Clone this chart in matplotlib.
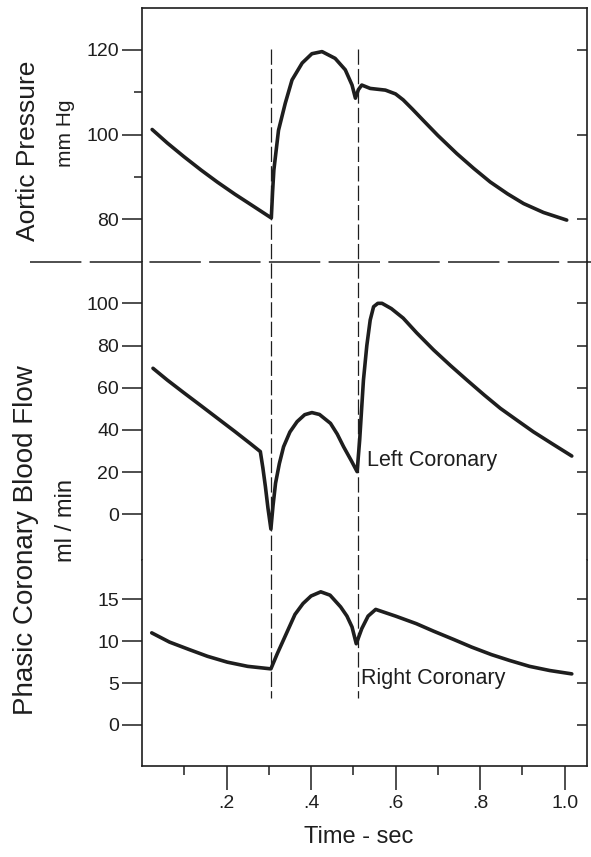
import numpy as np
import matplotlib.pyplot as plt
from matplotlib.lines import Line2D
from matplotlib.transforms import blended_transform_factory

# ---- data ----
t_aortic = [0.024, 0.060, 0.099, 0.140, 0.178, 0.220, 0.257, 0.280, 0.306, 0.309,
            0.312, 0.323, 0.339, 0.355, 0.379, 0.402, 0.426, 0.457, 0.481, 0.497,
            0.505, 0.512, 0.520, 0.540, 0.576, 0.600, 0.618, 0.640, 0.665, 0.700,
            0.745, 0.785, 0.824, 0.865, 0.903, 0.950, 1.005]
p_aortic = [101.2, 98.0, 94.8, 91.6, 88.8, 85.9, 83.5, 82.0, 80.3, 86.5,
            91.6, 101.0, 107.4, 112.9, 116.9, 119.1, 119.6, 118.0, 115.3, 111.7,
            108.6, 110.6, 111.7, 110.9, 110.5, 109.6, 108.2, 106.0, 103.4, 99.8,
            95.5, 92.0, 88.8, 86.0, 83.7, 81.6, 79.8]

t_left = [0.026, 0.060, 0.099, 0.140, 0.178, 0.220, 0.257, 0.280, 0.286, 0.292,
          0.298, 0.305, 0.310, 0.316, 0.325, 0.335, 0.350, 0.367, 0.385, 0.402,
          0.420, 0.446, 0.462, 0.477, 0.495, 0.509, 0.515, 0.524, 0.532, 0.540,
          0.548, 0.558, 0.568, 0.590, 0.618, 0.650, 0.690, 0.730, 0.769, 0.810,
          0.848, 0.890, 0.926, 0.970, 1.017]
f_left = [69.2, 63.6, 57.6, 51.4, 45.6, 39.2, 33.4, 29.7, 22.0, 13.1,
          3.0, -7.0, 4.0, 14.7, 24.0, 32.0, 39.0, 43.9, 47.2, 48.2,
          47.3, 43.1, 38.0, 32.0, 25.5, 20.2, 35.0, 63.6, 80.0, 92.1,
          98.4, 100.0, 100.0, 97.5, 93.0, 86.0, 77.9, 70.5, 63.6, 56.5,
          50.2, 44.2, 39.1, 33.5, 27.6]

t_right = [0.023, 0.065, 0.112, 0.155, 0.202, 0.250, 0.305, 0.320, 0.345, 0.362,
           0.381, 0.400, 0.423, 0.445, 0.470, 0.485, 0.497, 0.507, 0.520, 0.535,
           0.553, 0.600, 0.649, 0.690, 0.738, 0.780, 0.827, 0.870, 0.917, 0.965,
           1.017]
f_right = [11.0, 9.9, 9.0, 8.2, 7.5, 7.0, 6.7, 8.5, 11.3, 13.2,
           14.5, 15.4, 15.9, 15.5, 14.1, 13.0, 11.7, 9.7, 11.5, 13.0,
           13.8, 13.0, 12.1, 11.2, 10.2, 9.3, 8.4, 7.7, 7.0, 6.5,
           6.1]

dash_times = [0.306, 0.510]
x_major = [0.2, 0.4, 0.6, 0.8, 1.0]
x_labels = ['.2', '.4', '.6', '.8', '1.0']
x_minor = [0.1, 0.3, 0.5, 0.7, 0.9]

# ---- figure ----
plt.rcParams['font.family'] = ['Liberation Sans', 'DejaVu Sans']
plt.rcParams['lines.scale_dashes'] = False
ink = '#1e1e1e'
W, H = 591, 857

fig = plt.figure(figsize=(W / 100, H / 100), dpi=100)

def box(top, bottom):
    return [142 / W, 1 - bottom / H, (587 - 142) / W, (bottom - top) / H]

ax1 = fig.add_axes(box(8, 262))
ax2 = fig.add_axes(box(262, 560), sharex=ax1)
ax3 = fig.add_axes(box(560, 766), sharex=ax1)

panels = [
    (ax1, t_aortic, p_aortic, (69.9, 129.9), [80, 100, 120], [90, 110]),
    (ax2, t_left, f_left, (-21.7, 119.6), [0, 20, 40, 60, 80, 100], []),
    (ax3, t_right, f_right, (-4.9, 19.7), [0, 5, 10, 15], []),
]

for ax, t, v, lim, major, minor in panels:
    ax.plot(t, v, color=ink, lw=2.6, solid_joinstyle='round', solid_capstyle='round')
    ax.set_ylim(lim)
    ax.set_yticks(major)
    ax.set_yticks(minor, minor=True)
    ax.tick_params(axis='y', which='major', direction='out', length=14.5, width=1.1,
                   labelsize=14, pad=2, colors=ink)
    ax.tick_params(axis='y', which='minor', direction='out', length=6, width=1.1, colors=ink)
    for s in ax.spines.values():
        s.set_color(ink)
        s.set_linewidth(1.2)
    ax.spines['top'].set_visible(ax is ax1)
    ax.spines['bottom'].set_visible(ax is ax3)
    # right-hand ticks point inwards
    rt = ax.twinx()
    rt.set_ylim(lim)
    rt.set_yticks(major)
    rt.tick_params(axis='y', direction='in', length=7.5, width=1.1, labelright=False, colors=ink)
    for s in rt.spines.values():
        s.set_visible(False)
    if ax is not ax3:
        ax.tick_params(axis='x', which='both', bottom=False, labelbottom=False)

ax1.set_xlim(0.0, 1.053)
ax3.set_xticks(x_major, x_labels)
ax3.set_xticks(x_minor, minor=True)
ax3.tick_params(axis='x', which='major', direction='out', length=17, width=1.1,
                labelsize=14, pad=4, colors=ink)
ax3.tick_params(axis='x', which='minor', direction='out', length=6.5, width=1.1, colors=ink)

# vertical dashed markers running through all three traces
trans = blended_transform_factory(ax3.transData, fig.transFigure)
for t in dash_times:
    ax3.plot([t, t], [1 - 49 / H, 1 - 698 / H], transform=trans, clip_on=False,
             color=ink, lw=0.9, ls=(0, (11, 3)))

# horizontal dashed separator
fig.add_artist(Line2D([30 / W, 1.0], [1 - 262 / H] * 2, transform=fig.transFigure,
                      color=ink, lw=1.1, ls=(0, (37, 6))))

ax2.text(0.533, 25.7, 'Left Coronary', ha='left', va='center', fontsize=15.5, color=ink)
ax3.text(0.519, 5.6, 'Right Coronary', ha='left', va='center', fontsize=15.5, color=ink)

fig.text(35 / W, 1 - 151 / H, 'Aortic Pressure', rotation=90, rotation_mode='anchor',
         ha='center', va='baseline', fontsize=19, color=ink)
fig.text(71 / W, 1 - 133 / H, 'mm Hg', rotation=90, rotation_mode='anchor',
         ha='center', va='baseline', fontsize=15, color=ink)
fig.text(33 / W, 1 - 540 / H, 'Phasic Coronary Blood Flow', rotation=90, rotation_mode='anchor',
         ha='center', va='baseline', fontsize=20, color=ink)
fig.text(72 / W, 1 - 521 / H, 'ml / min', rotation=90, rotation_mode='anchor',
         ha='center', va='baseline', fontsize=17, color=ink)
fig.text(359 / W, 1 - 836.7 / H, 'Time - sec', ha='center', va='center', fontsize=17, color=ink)

fig.savefig('out.png', dpi=100, facecolor='white')
